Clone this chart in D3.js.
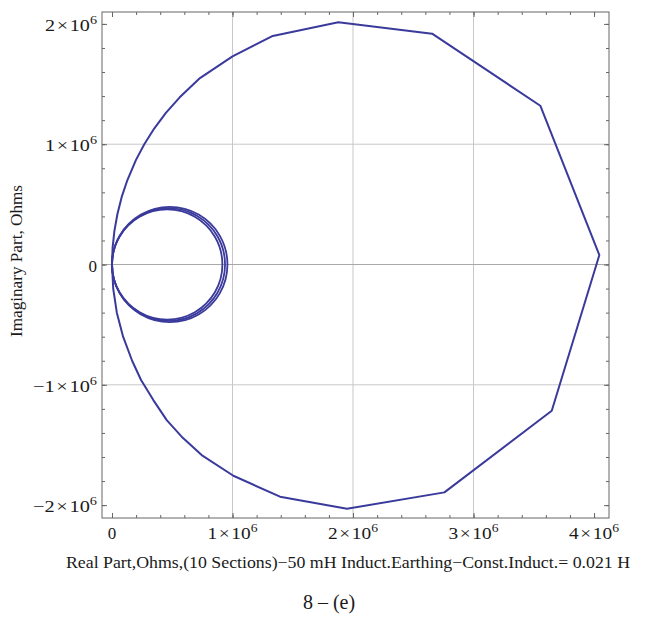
<!DOCTYPE html>
<html>
<head>
<meta charset="utf-8">
<script src="https://cdn.jsdelivr.net/npm/d3@7"></script>
<style>
  body { margin: 0; background: #fff; }
  text { font-family: "Liberation Serif", "Times New Roman", serif; fill: #1a1a1a; }
</style>
</head>
<body>
<div id="mi-grafica"></div>
<script>
// Datos (unidades de 1e6 Ohms)
var curvaGrande = [
  [0, 0], [0.005, 0.14], [0.02, 0.28], [0.045, 0.42], [0.08, 0.56], [0.127, 0.70],
  [0.199, 0.87], [0.268, 1.0], [0.35, 1.13], [0.447, 1.26], [0.562, 1.39],
  [0.73, 1.55], [1.0, 1.73], [1.334, 1.90], [1.878, 2.013], [2.656, 1.919],
  [3.554, 1.32], [4.044, 0.079], [3.649, -1.215], [2.758, -1.894], [1.95, -2.03],
  [1.394, -1.93], [1.007, -1.756], [0.744, -1.584], [0.578, -1.431], [0.454, -1.293],
  [0.343, -1.127], [0.241, -0.96], [0.167, -0.8], [0.092, -0.6], [0.04, -0.4],
  [0.01, -0.2], [0, 0]
];

// Los tres lazos pequeños que pasan por el origen
var lazo1 = [
  [0.916, 0], [0.855, 0.229], [0.687, 0.397], [0.458, 0.458], [0.229, 0.397], [0.061, 0.229],
  [0, 0], [0.061, -0.229], [0.229, -0.397], [0.458, -0.458], [0.687, -0.397], [0.855, -0.229]
];
var lazo2 = [
  [0.938, 0], [0.875, 0.235], [0.704, 0.406], [0.469, 0.469], [0.235, 0.406], [0.063, 0.235],
  [0, 0], [0.063, -0.235], [0.235, -0.406], [0.469, -0.469], [0.704, -0.406], [0.875, -0.235]
];
var lazo3 = [
  [0.958, 0], [0.894, 0.240], [0.719, 0.415], [0.479, 0.479], [0.240, 0.415], [0.064, 0.240],
  [0, 0], [0.064, -0.240], [0.240, -0.415], [0.479, -0.479], [0.719, -0.415], [0.894, -0.240]
];

// Ticks y etiquetas
var xTicks = [0, 1, 2, 3, 4];
var xTickLabels = ["0", "1\u200a×\u200a10", "2\u200a×\u200a10", "3\u200a×\u200a10", "4\u200a×\u200a10"];
var yTicks = [-2, -1, 0, 1, 2];
var yTickLabels = ["\u22122\u200a×\u200a10", "\u22121\u200a×\u200a10", "0", "1\u200a×\u200a10", "2\u200a×\u200a10"];
var xGrid = [1, 2, 3];
var yGrid = [-1, 1];
var xMenores = d3.range(0, 4.01, 0.2);
var yMenores = d3.range(-2, 2.01, 0.2);

var tituloX = "Real Part,Ohms,(10 Sections)\u221250 mH Induct.Earthing\u2212Const.Induct.= 0.021 H";
var tituloY = "Imaginary Part, Ohms";
var pie = "8 \u2013 (e)";

var width = 648, height = 624;
var marco = {left: 102, right: 609, top: 12, bottom: 518};

var svg = d3.select("#mi-grafica")
  .append("svg")
  .attr("width", width)
  .attr("height", height);

svg.append("rect").attr("width", width).attr("height", height).attr("fill", "#fff");

var x = d3.scaleLinear().domain([-0.083, 4.124]).range([marco.left, marco.right]);
var y = d3.scaleLinear().domain([-2.107, 2.099]).range([marco.bottom, marco.top]);

// Rejilla
svg.append("g").selectAll("line").data(xGrid).join("line")
  .attr("x1", d => x(d)).attr("x2", d => x(d))
  .attr("y1", marco.top).attr("y2", marco.bottom)
  .attr("stroke", "#c8c8c8").attr("stroke-width", 1);
svg.append("g").selectAll("line").data(yGrid).join("line")
  .attr("x1", marco.left).attr("x2", marco.right)
  .attr("y1", d => y(d)).attr("y2", d => y(d))
  .attr("stroke", "#c8c8c8").attr("stroke-width", 1);
// eje horizontal en 0
svg.append("line")
  .attr("x1", marco.left).attr("x2", marco.right)
  .attr("y1", y(0)).attr("y2", y(0))
  .attr("stroke", "#a8a8a8").attr("stroke-width", 1);

// Ticks hacia dentro en los cuatro lados
function ticks(axisFn, scale, valores, tam, transform) {
  svg.append("g")
    .attr("transform", transform)
    .call(axisFn(scale).tickValues(valores).tickSize(-tam).tickFormat(""))
    .call(g => g.select(".domain").remove())
    .call(g => g.selectAll("line").attr("stroke", "#666"));
}
ticks(d3.axisBottom, x, xMenores, 3, "translate(0," + marco.bottom + ")");
ticks(d3.axisTop, x, xMenores, 3, "translate(0," + marco.top + ")");
ticks(d3.axisLeft, y, yMenores, 3, "translate(" + marco.left + ",0)");
ticks(d3.axisRight, y, yMenores, 3, "translate(" + marco.right + ",0)");
ticks(d3.axisBottom, x, xTicks, 5, "translate(0," + marco.bottom + ")");
ticks(d3.axisTop, x, xTicks, 5, "translate(0," + marco.top + ")");
ticks(d3.axisLeft, y, yTicks, 5, "translate(" + marco.left + ",0)");
ticks(d3.axisRight, y, yTicks, 5, "translate(" + marco.right + ",0)");

// Marco
svg.append("rect")
  .attr("x", marco.left).attr("y", marco.top)
  .attr("width", marco.right - marco.left).attr("height", marco.bottom - marco.top)
  .attr("fill", "none").attr("stroke", "#666").attr("stroke-width", 1);

// Curvas
var linea = d3.line().x(d => x(d[0])).y(d => y(d[1]));
var lineaCerrada = d3.line().x(d => x(d[0])).y(d => y(d[1])).curve(d3.curveCatmullRomClosed);
var color = "#3a3a9c";

svg.append("path").datum(curvaGrande)
  .attr("d", linea).attr("fill", "none")
  .attr("stroke", color).attr("stroke-width", 2).attr("stroke-linejoin", "round");

[lazo1, lazo2, lazo3].forEach(function (lazo) {
  svg.append("path").datum(lazo)
    .attr("d", lineaCerrada).attr("fill", "none")
    .attr("stroke", color).attr("stroke-width", 1.8);
});

// Etiquetas de los ticks
function etiqueta(t, texto, conExp, largo) {
  t.text(texto);
  if (conExp) {
    t.append("tspan").attr("dy", -7).attr("font-size", 12).text("6");
    t.attr("textLength", largo).attr("lengthAdjust", "spacingAndGlyphs");
  }
}

xTicks.forEach(function (d, i) {
  var t = svg.append("text")
    .attr("x", x(d)).attr("y", 539)
    .attr("text-anchor", "middle")
    .attr("font-size", 17);
  etiqueta(t, xTickLabels[i], d !== 0, 50);
});

yTicks.forEach(function (d, i) {
  var t = svg.append("text")
    .attr("x", 97).attr("y", y(d) + 7)
    .attr("text-anchor", "end")
    .attr("font-size", 17);
  etiqueta(t, yTickLabels[i], d !== 0, d < 0 ? 64 : 52);
});

// Titulos
svg.append("text")
  .attr("x", 66).attr("y", 568)
  .attr("font-size", 17)
  .attr("textLength", 564).attr("lengthAdjust", "spacingAndGlyphs")
  .text(tituloX);

svg.append("text")
  .attr("transform", "translate(22,261) rotate(-90)")
  .attr("text-anchor", "middle")
  .attr("font-size", 16.5)
  .attr("textLength", 152).attr("lengthAdjust", "spacingAndGlyphs")
  .text(tituloY);

svg.append("text")
  .attr("x", 329).attr("y", 609)
  .attr("text-anchor", "middle")
  .attr("font-size", 20)
  .text(pie);
</script>
</body>
</html>
